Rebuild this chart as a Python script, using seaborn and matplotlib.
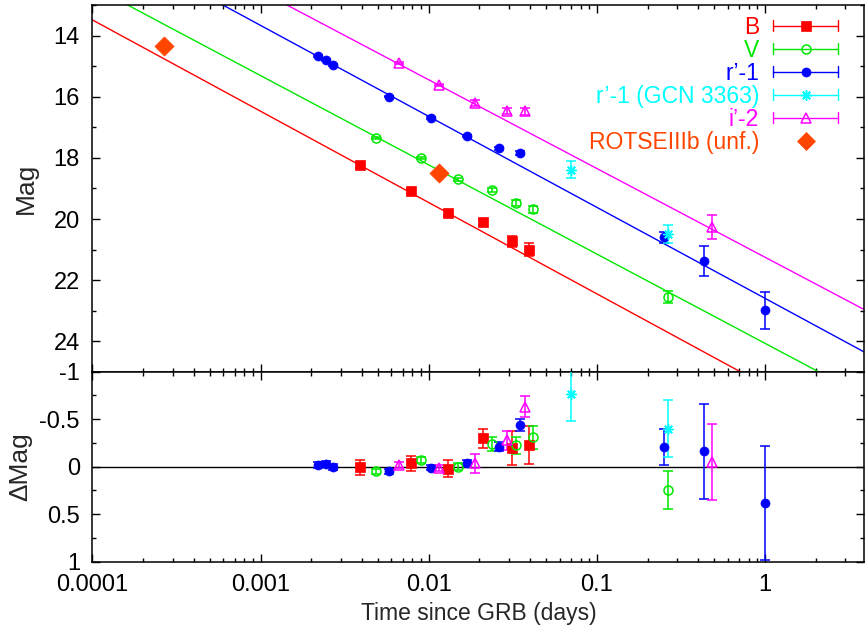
import numpy as np
import pandas as pd
import matplotlib
matplotlib.use("Agg")
import matplotlib.pyplot as plt
import seaborn as sns
from matplotlib.lines import Line2D
from matplotlib.legend_handler import HandlerBase
from matplotlib.ticker import FixedLocator, MultipleLocator, LogLocator, NullFormatter

# ---------------- data ----------------
# B band (red squares)
b_t = [0.00390, 0.00789, 0.0131, 0.0211, 0.0314, 0.0392]
b_mag = [18.24, 19.09, 19.81, 20.10, 20.72, 21.00]
b_res = [0.006, -0.035, 0.02, -0.30, -0.20, -0.225]
b_err = [0.08, 0.08, 0.09, 0.10, 0.18, 0.20]

# V band (green open circles)
v_t = [0.00488, 0.00903, 0.0150, 0.0237, 0.0331, 0.0419, 0.264]
v_mag = [17.34, 18.00, 18.70, 19.05, 19.47, 19.68, 22.56]
v_res = [0.05, -0.067, 0.0, -0.24, -0.225, -0.31, 0.245]
v_err = [0.03, 0.03, 0.04, 0.07, 0.09, 0.12, 0.20]

# r' - 1 (blue filled circles)
r_t = [0.00220, 0.00245, 0.00270, 0.00581, 0.01028, 0.0169, 0.0263, 0.0351, 0.249, 0.436, 1.0]
r_mag = [14.66, 14.80, 14.95, 15.99, 16.69, 17.29, 17.68, 17.84, 20.60, 21.38, 22.99]
r_res = [-0.018, -0.03, 0.006, 0.05, 0.01, -0.04, -0.21, -0.44, -0.21, -0.16, 0.385]
r_err = [0.03, 0.03, 0.03, 0.03, 0.03, 0.03, 0.05, 0.065, 0.19, 0.50, 0.60]

# r' - 1 from GCN 3363 (cyan asterisks)
g_t = [0.0703, 0.266]
g_mag = [18.39, 20.49]
g_res = [-0.765, -0.40]
g_err = [0.28, 0.30]

# i' - 2 (magenta open triangles)
i_t = [0.00668, 0.01148, 0.0189, 0.0290, 0.0371, 0.486]
i_mag = [14.90, 15.61, 16.19, 16.47, 16.47, 20.27]
i_res = [-0.018, 0.017, -0.035, -0.28, -0.63, -0.05]
i_err = [0.03, 0.03, 0.10, 0.10, 0.11, 0.40]

# ROTSE-IIIb unfiltered (orange diamonds)
rotse_t = [0.000267, 0.01148]
rotse_mag = [14.32, 18.50]

# power-law fit lines, end points (t, mag)
fit_t = [1e-4, 3.9]
fit_b = [13.48, 27.21]
fit_v = [12.38, 25.80]
fit_r = [10.68, 24.36]
fit_i = [9.63, 22.97]

series = [
    ("B", b_t, b_mag, b_res, b_err, fit_b, "#ff0000", "s", "#ff0000", 6.5),
    ("V", v_t, v_mag, v_res, v_err, fit_v, "#00e800", "o", "none", 6.5),
    ("r\u2019-1", r_t, r_mag, r_res, r_err, fit_r, "#0000ff", "o", "#0000ff", 6.5),
    ("r\u2019-1 (GCN 3363)", g_t, g_mag, g_res, g_err, None, "#00ffff", (8, 2, 0), "#00ffff", 7.5),
    ("i\u2019-2", i_t, i_mag, i_res, i_err, fit_i, "#ff00ff", "^", "none", 7),
]
ROTSE_COLOR = "#ff4500"

sns.set_theme(style="ticks")
plt.rcParams["font.family"] = ["Liberation Sans", "DejaVu Sans"]
plt.rcParams["font.size"] = 16
plt.rcParams["axes.linewidth"] = 1.1


class CapKey(HandlerBase):
    """gnuplot-like key: horizontal bar with end caps and a marker in the middle"""
    def create_artists(self, legend, orig, xdescent, ydescent, width, height, fontsize, trans):
        y = height / 2 - ydescent
        x0, x1 = -xdescent, width - xdescent
        col = orig.get_color()
        arts = []
        if orig.get_linestyle() not in ("None", "none", ""):
            cap = 0.32 * height
            arts.append(Line2D([x0, x1], [y, y], color=col, lw=1))
            arts.append(Line2D([x0, x0], [y - cap, y + cap], color=col, lw=1))
            arts.append(Line2D([x1, x1], [y - cap, y + cap], color=col, lw=1))
        arts.append(Line2D([(x0 + x1) / 2], [y], marker=orig.get_marker(), color=col,
                           markerfacecolor=orig.get_markerfacecolor(),
                           markeredgecolor=col, markersize=orig.get_markersize(),
                           markeredgewidth=orig.get_markeredgewidth(), linestyle="None"))
        for a in arts:
            a.set_transform(trans)
        return arts


fig = plt.figure(figsize=(8.65, 6.37), dpi=100)
ax = fig.add_axes([0.1069, 0.4165, 0.8925, 0.5752])
axr = fig.add_axes([0.1069, 0.1182, 0.8925, 0.2983], sharex=ax)

handles, labels = [], []
for name, t, mag, res, err, fit, col, mk, mfc, ms in series:
    if fit is not None:
        sns.lineplot(x=fit_t, y=fit, ax=ax, color=col, lw=1.0, estimator=None, sort=False,
                     legend=False)
    kw = dict(fmt="none", ecolor=col, elinewidth=1.1, capsize=3.5, capthick=1.1, zorder=3)
    ax.errorbar(t, mag, yerr=err, **kw)
    axr.errorbar(t, res, yerr=err, **kw)
    mew = 1.1 if mfc == "none" else 0.5
    if mk == (8, 2, 0):
        mew = 1.1
    for a, yy in ((ax, mag), (axr, res)):
        a.plot(t, yy, linestyle="None", marker=mk, markersize=ms, markerfacecolor=mfc,
               markeredgecolor=col, markeredgewidth=mew, zorder=4)
    handles.append(Line2D([], [], color=col, marker=mk, markerfacecolor=mfc, markersize=ms,
                          markeredgewidth=mew, linestyle="-"))
    labels.append(name)

rotse = pd.DataFrame({"t": rotse_t, "mag": rotse_mag})
sns.scatterplot(data=rotse, x="t", y="mag", ax=ax, marker="D", s=95, color=ROTSE_COLOR,
                edgecolor=ROTSE_COLOR, linewidth=0.5, zorder=5, legend=False)
handles.append(Line2D([], [], color=ROTSE_COLOR, marker="D", markerfacecolor=ROTSE_COLOR,
                      markersize=9, markeredgewidth=0.5, linestyle="None"))
labels.append("ROTSEIIIb (unf.)")

sns.lineplot(x=[1e-5, 10], y=[0, 0], ax=axr, color="black", lw=1.0, estimator=None,
             legend=False)

# axes setup
ax.set_xscale("log")
ax.set_xlim(1e-4, 3.9)
ax.set_ylim(25, 13)
axr.set_ylim(1, -1)

ax.yaxis.set_major_locator(FixedLocator([14, 16, 18, 20, 22, 24]))
ax.yaxis.set_minor_locator(MultipleLocator(1))
axr.yaxis.set_major_locator(FixedLocator([-1, -0.5, 0, 0.5, 1]))
axr.yaxis.set_minor_locator(MultipleLocator(0.25))
axr.set_yticklabels(["-1", "-0.5", "0", "0.5", "1"])

axr.xaxis.set_major_locator(FixedLocator([1e-4, 1e-3, 1e-2, 1e-1, 1]))
axr.xaxis.set_minor_locator(LogLocator(base=10, subs=np.arange(2, 10)))
axr.xaxis.set_minor_formatter(NullFormatter())
axr.set_xticklabels(["0.0001", "0.001", "0.01", "0.1", "1"])
ax.tick_params(axis="x", labelbottom=False)

for a in (ax, axr):
    a.tick_params(which="both", direction="in", top=True, right=True, colors="black",
                  labelsize=17, width=1.0)
    a.tick_params(which="major", length=5.8, pad=9)
    a.tick_params(which="minor", length=3)
    for s in a.spines.values():
        s.set_color("black")
        s.set_linewidth(1.1)

ax.set_ylabel("Mag", fontsize=19)
axr.set_ylabel("\u0394Mag", fontsize=19)
ax.yaxis.set_label_coords(-0.071, 0.5)
axr.yaxis.set_label_coords(-0.078, 0.5)
axr.set_xlabel("Time since GRB (days)", fontsize=16.5, labelpad=4)

leg = ax.legend(handles, labels, loc="upper right", bbox_to_anchor=(0.966, 0.972),
                frameon=False, markerfirst=False, fontsize=16.5, handlelength=2.85,
                handletextpad=0.6, labelspacing=0.0, borderpad=0, borderaxespad=0,
                handler_map={Line2D: CapKey()})
for txt, h in zip(leg.get_texts(), handles):
    txt.set_color(h.get_color())

fig.savefig("out.png", dpi=100)
